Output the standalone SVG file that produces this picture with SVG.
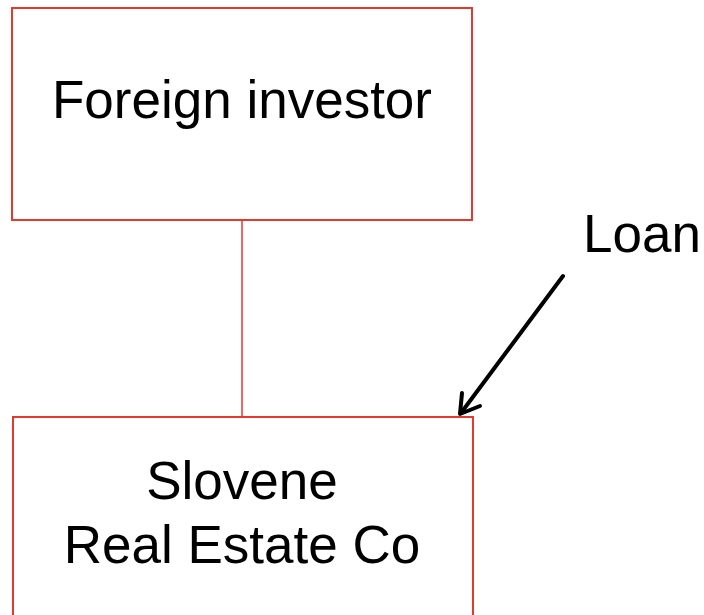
<svg xmlns="http://www.w3.org/2000/svg" width="704" height="615" viewBox="0 0 704 615">
  <style>
    .box { fill: #ffffff; stroke: #e8382c; stroke-width: 2; }
    .label { font-family: "Liberation Sans", Arial, sans-serif; font-size: 53px; fill: #000000; }
    .link { stroke: #e8382c; stroke-width: 1.5; fill: none; }
    .loan { stroke: #000000; stroke-width: 4; fill: none; stroke-linecap: round; stroke-linejoin: round; }
  </style>
  <rect width="704" height="615" fill="#ffffff"/>
  <g id="connectors">
    <line class="link" x1="242" y1="220" x2="242" y2="417"/>
    <line class="loan" x1="563" y1="276" x2="461" y2="413"/>
    <polyline class="loan" points="462,393 460,414 480,406"/>
  </g>
  <g id="foreign-investor">
    <rect class="box" x="12" y="8" width="460" height="212"/>
    <text class="label" x="242" y="118" text-anchor="middle">Foreign investor</text>
  </g>
  <g id="slovene-real-estate-co">
    <rect class="box" x="13" y="417" width="460" height="220"/>
    <text class="label" x="242" y="499" text-anchor="middle">Slovene</text>
    <text class="label" x="242" y="563" text-anchor="middle">Real Estate Co</text>
  </g>
  <g id="loan-label">
    <text class="label" x="583" y="252">Loan</text>
  </g>
</svg>
